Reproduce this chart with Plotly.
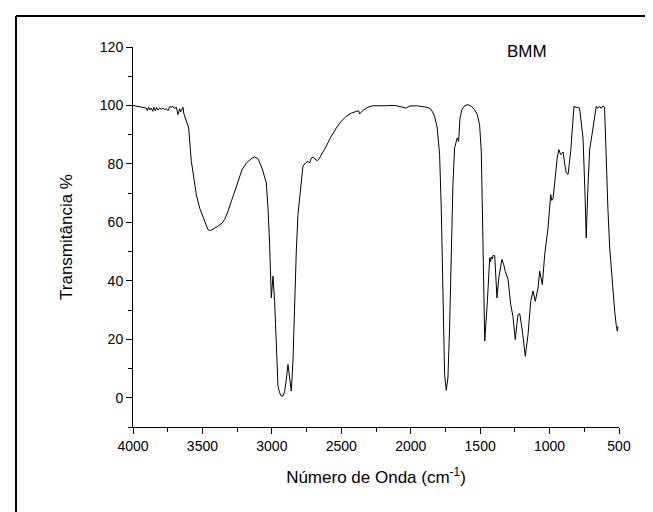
import plotly.graph_objects as go

wavenumber = [
    4000, 3964, 3928, 3904, 3897, 3887, 3878, 3868, 3858, 3849, 3839, 3830, 3820, 3808,
    3796, 3784, 3772, 3760, 3748, 3736, 3724, 3712, 3700, 3688, 3676, 3664, 3657, 3647,
    3640, 3633, 3623, 3611, 3599, 3580, 3561, 3544, 3520, 3496, 3479, 3460, 3441, 3412,
    3388, 3359, 3340, 3316, 3280, 3244, 3215, 3184, 3148, 3124, 3100, 3071, 3052, 3040,
    3028, 3016, 3004, 2992, 2980, 2968, 2956, 2944, 2932, 2920, 2908, 2896, 2884, 2872,
    2860, 2848, 2836, 2824, 2812, 2800, 2788, 2776, 2759, 2740, 2728, 2716, 2704, 2687,
    2673, 2663, 2644, 2608, 2572, 2536, 2500, 2464, 2428, 2392, 2375, 2368, 2356, 2344,
    2308, 2272, 2188, 2115, 2068, 2032, 2008, 1960, 1900, 1876, 1852, 1828, 1809, 1792,
    1780, 1768, 1756, 1744, 1732, 1720, 1708, 1696, 1684, 1672, 1665, 1655, 1645, 1631,
    1612, 1588, 1564, 1540, 1521, 1504, 1492, 1485, 1477, 1467, 1448, 1431, 1425, 1420,
    1412, 1407, 1395, 1379, 1366, 1355, 1343, 1330, 1319, 1299, 1280, 1264, 1247, 1236,
    1227, 1215, 1196, 1175, 1155, 1136, 1119, 1103, 1083, 1071, 1052, 1035, 1011, 992,
    984, 975, 959, 945, 934, 920, 910, 903, 891, 880, 867, 848, 836, 824, 808, 796,
    784, 772, 759, 745, 736, 724, 711, 687, 664, 652, 640, 628, 616, 604, 591, 580,
    567, 555, 543, 531, 519, 512, 507,
]
transmittance = [
    100.0, 99.7, 99.4, 99.1, 98.2, 99.4, 98.5, 99.1, 98.0, 99.4, 98.2, 99.3, 98.4, 99.1,
    98.7, 99.1, 98.6, 98.9, 98.2, 99.6, 99.4, 99.7, 98.9, 99.4, 96.9, 98.9, 97.8, 99.1,
    99.4, 97.1, 95.7, 94.0, 92.3, 80.9, 74.1, 69.5, 64.9, 62.1, 59.8, 57.5, 57.2, 57.9,
    58.7, 59.7, 61.0, 63.8, 69.0, 74.6, 78.0, 80.3, 81.8, 82.4, 81.8, 78.6, 75.8, 73.5,
    64.9, 52.4, 34.2, 41.6, 33.0, 14.8, 4.0, 1.7, 0.6, 0.6, 2.1, 6.3, 11.4, 6.8,
    2.3, 12.5, 33.0, 50.1, 62.7, 68.4, 75.2, 79.2, 80.3, 80.9, 80.3, 82.0, 82.3, 81.5,
    81.1, 81.5, 83.0, 86.1, 89.5, 92.3, 94.6, 96.3, 97.4, 98.0, 98.2, 97.1, 97.7, 98.3,
    99.4, 99.9, 99.9, 100.0, 99.5, 99.1, 99.8, 99.9, 99.5, 99.3, 98.6, 96.3, 92.3, 83.2,
    64.9, 33.0, 8.0, 2.5, 6.8, 23.9, 50.1, 72.9, 85.5, 88.3, 88.9, 87.7, 95.7, 98.6,
    99.9, 100.3, 99.7, 98.6, 96.9, 93.5, 84.3, 67.2, 44.4, 19.4, 33.0, 47.9, 46.5, 48.2,
    47.5, 48.7, 48.6, 34.2, 41.0, 44.5, 47.3, 45.5, 43.3, 40.5, 31.9, 27.9, 19.9, 25.0,
    28.5, 28.8, 22.8, 14.2, 21.7, 33.0, 36.5, 33.0, 37.6, 43.3, 38.7, 49.0, 58.1, 69.5,
    67.5, 68.1, 76.4, 82.0, 84.9, 83.2, 83.6, 84.1, 80.0, 77.0, 76.4, 84.3, 92.0, 99.7,
    99.3, 99.4, 99.1, 95.0, 88.8, 70.0, 54.7, 72.0, 85.0, 92.3, 99.7, 99.0, 99.7, 99.0,
    99.8, 99.4, 78.6, 64.9, 51.3, 43.3, 35.3, 29.6, 24.5, 22.8, 24.5,
]

x_ticks = [4000, 3500, 3000, 2500, 2000, 1500, 1000, 500]
y_ticks = [0, 20, 40, 60, 80, 100, 120]

W, H = 653, 512
ML, MR, MT, MB = 125, 42, 39, 93
pw, ph = W - ML - MR, H - MT - MB

fig = go.Figure()
fig.add_trace(go.Scatter(
    x=wavenumber, y=transmittance, mode='lines',
    line=dict(color='black', width=1), showlegend=False))

font = dict(family='Liberation Sans, Arial, sans-serif', color='black')

fig.update_layout(
    width=W, height=H,
    margin=dict(l=ML, r=MR, t=MT, b=MB),
    paper_bgcolor='white', plot_bgcolor='white',
    font=font,
    xaxis=dict(range=[4000, 500], tickvals=x_ticks, showgrid=False, zeroline=False,
               showline=True, linecolor='black', linewidth=1, ticks='outside',
               ticklen=6, tickcolor='black', tickfont=dict(size=14),
               minor=dict(dtick=250, ticks='outside', ticklen=4, tickcolor='black'),
               title=dict(text='Número de Onda (cm<sup>-1</sup>)', font=dict(size=17),
                          standoff=18)),
    yaxis=dict(range=[-10, 120], tickvals=y_ticks, showgrid=False, zeroline=False,
               showline=True, linecolor='black', linewidth=1, ticks='outside',
               ticklen=6, tickcolor='black', tickfont=dict(size=14),
               minor=dict(dtick=10, ticks='outside', ticklen=4, tickcolor='black'),
               title=dict(text='Transmitância %', font=dict(size=17), standoff=22)),
    annotations=[dict(text='BMM', x=(541 - ML) / pw, y=(H - MB - 32) / ph,
                      xref='paper', yref='paper', showarrow=False,
                      font=dict(size=17))],
    shapes=[
        dict(type='line', xref='paper', yref='paper', x0=(8 - ML) / pw, x1=(W + 5 - ML) / pw,
             y0=(H - MB - 8) / ph, y1=(H - MB - 8) / ph, line=dict(color='black', width=2)),
        dict(type='line', xref='paper', yref='paper', x0=(8 - ML) / pw, x1=(8 - ML) / pw,
             y0=(H - MB - 8) / ph, y1=(-MB - 5) / ph, line=dict(color='black', width=2)),
    ],
)

fig.write_html("out.html")
